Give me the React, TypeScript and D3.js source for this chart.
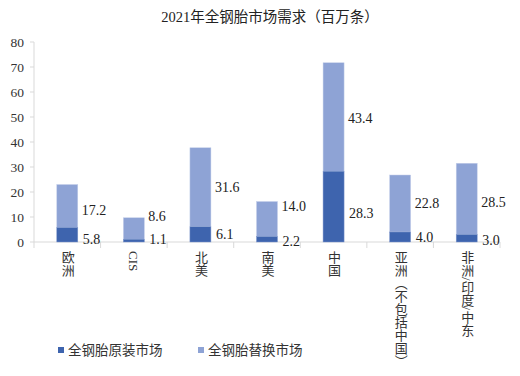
import React from "react";
import * as d3 from "d3";

const title = "2021年全钢胎市场需求（百万条）";
const categories = ["欧洲", "CIS", "北美", "南美", "中国", "亚洲（不包括中国）", "非洲/印度/中东"];
const oemValues = [5.8, 1.1, 6.1, 2.2, 28.3, 4.0, 3.0];
const replacementValues = [17.2, 8.6, 31.6, 14.0, 43.4, 22.8, 28.5];
// label anchor positions (in value units), as placed in the original chart
const oemLabelAt = [1.2, 1.1, 3.2, 0.4, 11.7, 1.9, 0.8];
const replacementLabelAt = [12.8, 10.5, 21.9, 14.5, 49.6, 15.5, 15.9];
const seriesNames = ["全钢胎原装市场", "全钢胎替换市场"];
const yTicks = [0, 10, 20, 30, 40, 50, 60, 70, 80];

const colors = ["#3E64AE", "#8EA3D5"];
const serif = "'Times New Roman', 'Liberation Serif', 'DejaVu Serif', serif";
const mixed = "'Times New Roman', 'Liberation Serif', 'Noto Sans CJK SC', serif";

export default function App() {
  const W = 520, H = 376;
  const left = 34, right = 500, top = 42, bottom = 242;
  const x = d3.scaleBand<string>().domain(categories).range([left, right]).paddingInner(0).paddingOuter(0);
  const y = d3.scaleLinear().domain([0, 80]).range([bottom, top]);
  const barW = 21;
  const bw = x.bandwidth();

  return (
    <svg width={W} height={H} style={{ position: "absolute", left: 0, top: 0, background: "#fff" }}>
      <text x={270} y={22} textAnchor="middle" fontSize={14.5} fill="#222" style={{ fontFamily: mixed }}>{title}</text>

      {/* y axis */}
      <line x1={left} x2={left} y1={top} y2={bottom} stroke="#d9d9d9" strokeWidth={1} />
      {yTicks.map((t) => (
        <g key={t}>
          <line x1={left - 4} x2={left} y1={y(t)} y2={y(t)} stroke="#d9d9d9" />
          <text x={24} y={y(t)} dy="0.35em" textAnchor="end" fontSize={13.5} fill="#333" style={{ fontFamily: serif }}>{t}</text>
        </g>
      ))}

      {/* x axis */}
      <line x1={left} x2={right} y1={bottom} y2={bottom} stroke="#d9d9d9" />
      {categories.map((c, i) => (
        <line key={"t" + i} x1={(x(c) as number)} x2={(x(c) as number)} y1={bottom} y2={bottom + 6} stroke="#d9d9d9" />
      ))}
      <line x1={right} x2={right} y1={bottom} y2={bottom + 6} stroke="#d9d9d9" />

      {/* bars */}
      {categories.map((c, i) => {
        const cx = (x(c) as number) + bw / 2;
        const x0 = cx - barW / 2;
        const o = oemValues[i];
        const r = replacementValues[i];
        return (
          <g key={c}>
            <rect x={x0} width={barW} y={y(o + r)} height={y(o) - y(o + r)} fill={colors[1]} stroke="#c5d0ea" strokeWidth={0.5} />
            <rect x={x0} width={barW} y={y(o)} height={y(0) - y(o)} fill={colors[0]} stroke="#7f97cc" strokeWidth={0.5} />
            <text x={x0 + barW + 4} y={y(replacementLabelAt[i])} dy="0.35em" fontSize={14} fill="#222" style={{ fontFamily: serif }}>{r.toFixed(1)}</text>
            <text x={x0 + barW + 5} y={y(oemLabelAt[i])} dy="0.35em" fontSize={14} fill="#222" style={{ fontFamily: serif }}>{o.toFixed(1)}</text>
            <text x={cx} y={251} fontSize={13} fill="#333" style={{ writingMode: "vertical-rl" as any, fontFamily: mixed }}>{c}</text>
          </g>
        );
      })}

      {/* legend */}
      {seriesNames.map((s, i) => {
        const lx = 58 + i * 140;
        return (
          <g key={s}>
            <rect x={lx} y={347} width={6} height={6} fill={colors[i]} />
            <text x={lx + 10} y={350} dy="0.35em" fontSize={13.5} fill="#333" style={{ fontFamily: mixed }}>{s}</text>
          </g>
        );
      })}
    </svg>
  );
}
